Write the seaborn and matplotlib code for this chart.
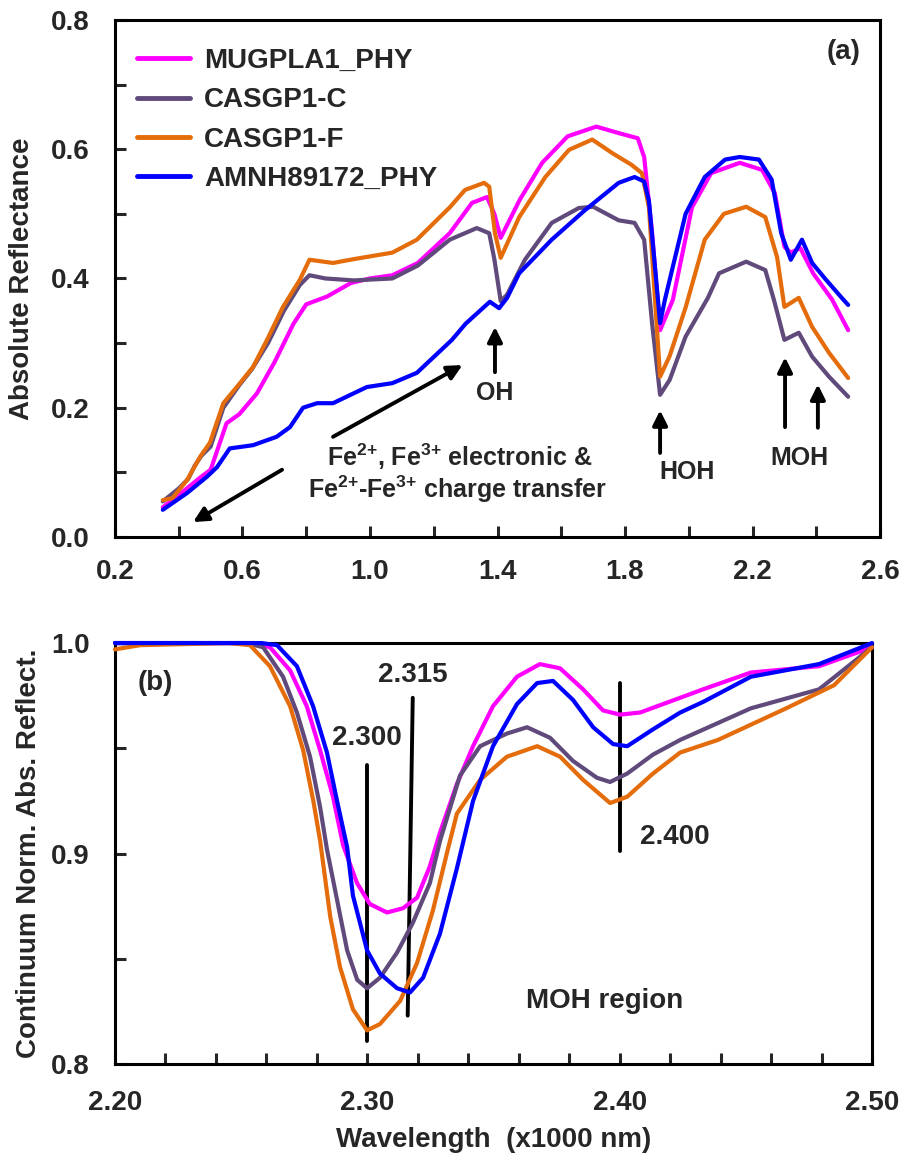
import numpy as np
import pandas as pd
import matplotlib
matplotlib.use("Agg")
import matplotlib.pyplot as plt
from matplotlib.ticker import MultipleLocator
import seaborn as sns

# ---- panel (a): absolute reflectance, wavelength in micrometres ----
samples = ["MUGPLA1_PHY", "CASGP1-C", "CASGP1-F", "AMNH89172_PHY"]
colors = ["#FF00FF", "#604A7B", "#E46C0A", "#0000FF"]

a_mug_x = [0.35, 0.40, 0.45, 0.47, 0.50, 0.55, 0.59, 0.645, 0.70, 0.76, 0.80, 0.865,
           0.94, 1.00, 1.07, 1.15, 1.25, 1.32, 1.367, 1.39, 1.41, 1.47, 1.54, 1.62,
           1.71, 1.78, 1.84, 1.86, 1.885, 1.91, 1.95, 2.01, 2.07, 2.16, 2.23, 2.27,
           2.30, 2.32, 2.35, 2.39, 2.45, 2.50]
a_mug_y = [0.046, 0.065, 0.085, 0.093, 0.104, 0.176, 0.19, 0.222, 0.27, 0.33, 0.36, 0.372,
           0.393, 0.40, 0.405, 0.424, 0.47, 0.517, 0.526, 0.50, 0.463, 0.522, 0.579, 0.62,
           0.635, 0.625, 0.617, 0.588, 0.47, 0.32, 0.367, 0.51, 0.563, 0.579, 0.568, 0.532,
           0.449, 0.44, 0.447, 0.408, 0.367, 0.32]

a_casc_x = [0.35, 0.40, 0.43, 0.45, 0.47, 0.50, 0.54, 0.59, 0.63, 0.68, 0.73, 0.78, 0.81,
            0.86, 0.95, 1.07, 1.15, 1.25, 1.335, 1.374, 1.39, 1.41, 1.43, 1.486, 1.57,
            1.655, 1.70, 1.78, 1.83, 1.86, 1.885, 1.91, 1.94, 1.99, 2.06, 2.095, 2.18,
            2.24, 2.267, 2.30, 2.345, 2.387, 2.44, 2.50]
a_casc_y = [0.055, 0.075, 0.09, 0.11, 0.125, 0.14, 0.20, 0.235, 0.26, 0.30, 0.35, 0.39, 0.405,
            0.40, 0.397, 0.40, 0.42, 0.46, 0.478, 0.47, 0.43, 0.365, 0.375, 0.429, 0.486,
            0.509, 0.511, 0.49, 0.486, 0.46, 0.33, 0.22, 0.243, 0.31, 0.37, 0.408, 0.426,
            0.413, 0.367, 0.305, 0.316, 0.279, 0.248, 0.217]

a_casf_x = [0.35, 0.38, 0.426, 0.467, 0.498, 0.54, 0.592, 0.633, 0.677, 0.727, 0.78, 0.81,
            0.884, 0.95, 1.07, 1.147, 1.25, 1.298, 1.358, 1.374, 1.392, 1.41, 1.468, 1.55,
            1.624, 1.697, 1.76, 1.82, 1.853, 1.875, 1.91, 1.94, 1.99, 2.05, 2.11, 2.18,
            2.24, 2.277, 2.30, 2.345, 2.387, 2.44, 2.50]
a_casf_y = [0.057, 0.06, 0.088, 0.124, 0.146, 0.207, 0.238, 0.263, 0.305, 0.356, 0.398, 0.429,
            0.424, 0.43, 0.44, 0.46, 0.51, 0.537, 0.548, 0.542, 0.47, 0.432, 0.495, 0.557,
            0.599, 0.615, 0.594, 0.576, 0.563, 0.51, 0.248, 0.28, 0.355, 0.46, 0.50, 0.511,
            0.495, 0.433, 0.356, 0.37, 0.325, 0.285, 0.246]

a_amnh_x = [0.35, 0.426, 0.488, 0.52, 0.56, 0.633, 0.707, 0.749, 0.79, 0.834, 0.884, 0.99,
            1.07, 1.147, 1.257, 1.30, 1.376, 1.405, 1.43, 1.468, 1.57, 1.675, 1.78, 1.83,
            1.86, 1.875, 1.91, 1.925, 1.99, 2.05, 2.114, 2.16, 2.22, 2.26, 2.29, 2.32,
            2.355, 2.387, 2.427, 2.48, 2.50]
a_amnh_y = [0.042, 0.068, 0.093, 0.108, 0.137, 0.142, 0.155, 0.17, 0.20, 0.207, 0.207, 0.232,
            0.238, 0.254, 0.305, 0.33, 0.364, 0.354, 0.37, 0.408, 0.46, 0.506, 0.548, 0.557,
            0.55, 0.52, 0.331, 0.367, 0.50, 0.557, 0.584, 0.588, 0.584, 0.553, 0.47, 0.429,
            0.46, 0.424, 0.40, 0.37, 0.359]

# ---- panel (b): continuum-normalised MOH region ----
b_mug_x = [2.20, 2.255, 2.2614, 2.2694, 2.276, 2.2813, 2.2864, 2.2904, 2.2959, 2.301, 2.3078,
           2.3141, 2.3197, 2.3248, 2.3288, 2.3355, 2.3419, 2.3498, 2.3593, 2.3684, 2.3764,
           2.3855, 2.3934, 2.4002, 2.4081, 2.424, 2.433, 2.452, 2.479, 2.50]
b_mug_y = [1.0, 1.0, 0.998, 0.987, 0.970, 0.949, 0.927, 0.904, 0.886, 0.876, 0.872,
           0.874, 0.879, 0.894, 0.910, 0.933, 0.951, 0.970, 0.984, 0.990, 0.988,
           0.978, 0.968, 0.966, 0.967, 0.974, 0.978, 0.986, 0.989, 0.998]

b_casc_x = [2.20, 2.252, 2.2587, 2.2666, 2.2721, 2.2773, 2.2813, 2.284, 2.288, 2.292, 2.296,
            2.2999, 2.305, 2.3118, 2.318, 2.3248, 2.3288, 2.3367, 2.3447, 2.3553, 2.3633,
            2.3724, 2.3815, 2.391, 2.3962, 2.403, 2.4132, 2.424, 2.452, 2.479, 2.50]
b_casc_y = [1.0, 1.0, 0.998, 0.984, 0.967, 0.946, 0.922, 0.902, 0.878, 0.854, 0.840,
            0.836, 0.841, 0.853, 0.867, 0.886, 0.906, 0.937, 0.951, 0.957, 0.960,
            0.955, 0.944, 0.936, 0.934, 0.938, 0.947, 0.954, 0.969, 0.978, 0.998]

b_casf_x = [2.20, 2.21, 2.245, 2.2535, 2.2614, 2.2694, 2.2746, 2.2786, 2.2813, 2.2853, 2.2892,
            2.2943, 2.2999, 2.305, 2.313, 2.3197, 2.326, 2.3315, 2.3355, 2.3447, 2.3553,
            2.3673, 2.3764, 2.3855, 2.3962, 2.403, 2.4132, 2.424, 2.439, 2.466, 2.485, 2.50]
b_casf_y = [0.997, 0.999, 1.0, 0.999, 0.989, 0.970, 0.949, 0.925, 0.906, 0.870, 0.846,
            0.826, 0.816, 0.819, 0.830, 0.848, 0.873, 0.900, 0.919, 0.935, 0.946,
            0.951, 0.946, 0.935, 0.924, 0.927, 0.938, 0.948, 0.954, 0.969, 0.980, 0.998]

b_amnh_x = [2.20, 2.258, 2.2642, 2.2721, 2.2785, 2.284, 2.288, 2.292, 2.2943, 2.2999, 2.305,
            2.3118, 2.3169, 2.3221, 2.3288, 2.3355, 2.3419, 2.3498, 2.3593, 2.3673, 2.3736,
            2.3815, 2.3895, 2.3974, 2.403, 2.4132, 2.424, 2.433, 2.452, 2.479, 2.50]
b_amnh_y = [1.0, 1.0, 0.999, 0.989, 0.970, 0.948, 0.925, 0.903, 0.880, 0.854, 0.843,
            0.836, 0.834, 0.841, 0.862, 0.893, 0.925, 0.951, 0.971, 0.981, 0.982,
            0.973, 0.960, 0.952, 0.951, 0.959, 0.967, 0.972, 0.984, 0.990, 1.0]

band_centers = [2.300, 2.315, 2.400]


def long_table(xs, ys):
    parts = []
    for name, x, y in zip(samples, xs, ys):
        parts.append(pd.DataFrame({"wl": x, "refl": y, "sample": name}))
    return pd.concat(parts, ignore_index=True)


df_a = long_table([a_mug_x, a_casc_x, a_casf_x, a_amnh_x],
                  [a_mug_y, a_casc_y, a_casf_y, a_amnh_y])
df_b = long_table([b_mug_x, b_casc_x, b_casf_x, b_amnh_x],
                  [b_mug_y, b_casc_y, b_casf_y, b_amnh_y])

sns.set_style("ticks")
plt.rcParams["font.family"] = ["Liberation Sans", "DejaVu Sans"]
plt.rcParams["font.weight"] = "bold"
plt.rcParams["axes.labelweight"] = "bold"
plt.rcParams["mathtext.fontset"] = "custom"
plt.rcParams["mathtext.rm"] = "Liberation Sans:bold"
plt.rcParams["mathtext.bf"] = "Liberation Sans:bold"
plt.rcParams["mathtext.it"] = "Liberation Sans:bold"
plt.rcParams["mathtext.default"] = "rm"

palette = dict(zip(samples, colors))
fs = 20

fig = plt.figure(figsize=(9.04, 11.62), dpi=100)
ax1 = fig.add_axes([0.1272, 0.5379, 0.8463, 0.4449])
ax2 = fig.add_axes([0.1272, 0.0843, 0.8374, 0.3623])

sns.lineplot(data=df_a, x="wl", y="refl", hue="sample", hue_order=samples,
             palette=palette, estimator=None, lw=3, ax=ax1)
sns.lineplot(data=df_b, x="wl", y="refl", hue="sample", hue_order=samples,
             palette=palette, estimator=None, lw=3, ax=ax2, legend=False)
for ln in ax2.lines:
    ln.set_clip_on(False)
    ln.set_zorder(3)

for ax in (ax1, ax2):
    for s in ax.spines.values():
        s.set_linewidth(2.2)
        s.set_color("black")
    ax.tick_params(which="both", direction="in", length=8, width=2.2,
                   labelsize=fs, top=False, right=False)
    ax.tick_params(axis="x", which="both", pad=16)
    ax.tick_params(axis="y", which="both", pad=18)

# panel (a) axes
ax1.set_xlim(0.2, 2.6)
ax1.set_ylim(0.0, 0.8)
ax1.set_xticks(np.arange(0.2, 2.61, 0.4))
ax1.set_xticks(np.arange(0.4, 2.5, 0.4), minor=True)
ax1.yaxis.set_major_locator(MultipleLocator(0.2))
ax1.yaxis.set_minor_locator(MultipleLocator(0.1))
ax1.xaxis.set_major_formatter(lambda v, p: f"{v:.1f}")
ax1.yaxis.set_major_formatter(lambda v, p: f"{v:.1f}")
ax1.set_xlabel("")
ax1.set_ylabel("Absolute Reflectance", fontsize=fs)
ax1.yaxis.set_label_coords(-0.105, 0.5)

leg = ax1.legend(loc="upper left", bbox_to_anchor=(0.029, 0.946), frameon=False,
                 fontsize=fs, borderpad=0, borderaxespad=0, handlelength=1.9,
                 handletextpad=0.5, labelspacing=0.48)
for h in leg.get_lines():
    h.set_linewidth(3.5)

ax1.text(2.487, 0.75, "(a)", fontsize=fs, ha="center", va="center")

arrow = dict(arrowstyle="-|>", lw=2.8, color="black", mutation_scale=22, shrinkA=0, shrinkB=0)
ax1.annotate("", xy=(1.392, 0.325), xytext=(1.392, 0.255), arrowprops=arrow)
ax1.text(1.392, 0.223, "OH", fontsize=18, ha="center", va="center")
ax1.annotate("", xy=(1.91, 0.196), xytext=(1.91, 0.13), arrowprops=arrow)
ax1.text(1.995, 0.10, "HOH", fontsize=18, ha="center", va="center")
ax1.annotate("", xy=(2.302, 0.278), xytext=(2.302, 0.17), arrowprops=arrow)
ax1.annotate("", xy=(2.405, 0.236), xytext=(2.405, 0.169), arrowprops=arrow)
ax1.text(2.346, 0.122, "MOH", fontsize=18, ha="center", va="center")
ax1.annotate("", xy=(1.29, 0.266), xytext=(0.884, 0.155), arrowprops=arrow)
ax1.annotate("", xy=(0.445, 0.023), xytext=(0.724, 0.104), arrowprops=arrow)
ax1.text(1.28, 0.124, "Fe$^{2{+}}$, Fe$^{3{+}}$ electronic &", fontsize=18,
         ha="center", va="center")
ax1.text(1.275, 0.073, "Fe$^{2{+}}$-Fe$^{3{+}}$ charge transfer", fontsize=18,
         ha="center", va="center")

# panel (b) axes
ax2.set_xlim(2.2, 2.5)
ax2.set_ylim(0.8, 1.0)
ax2.xaxis.set_major_locator(MultipleLocator(0.1))
ax2.xaxis.set_minor_locator(MultipleLocator(0.02))
ax2.yaxis.set_major_locator(MultipleLocator(0.1))
ax2.yaxis.set_minor_locator(MultipleLocator(0.05))
ax2.xaxis.set_major_formatter(lambda v, p: f"{v:.2f}")
ax2.yaxis.set_major_formatter(lambda v, p: f"{v:.1f}")
ax2.tick_params(axis="x", which="both", pad=19)
ax2.set_xlabel("Wavelength  (x1000 nm)", fontsize=fs, va="top")
ax2.xaxis.set_label_coords(0.5, -0.15)
ax2.set_ylabel("Continuum Norm. Abs. Reflect.", fontsize=fs)
ax2.yaxis.set_label_coords(-0.096, 0.5)

ax2.plot([band_centers[0], band_centers[0]], [0.942, 0.811], color="black", lw=2.8)
ax2.plot([band_centers[1] + 0.003, band_centers[1] + 0.001], [0.974, 0.823],
         color="black", lw=2.8)
ax2.plot([band_centers[2], band_centers[2]], [0.981, 0.901], color="black", lw=2.8)
ax2.text(band_centers[0], 0.955, f"{band_centers[0]:.3f}", fontsize=fs, ha="center", va="center")
ax2.text(band_centers[1] + 0.003, 0.985, f"{band_centers[1]:.3f}", fontsize=fs,
         ha="center", va="center")
ax2.text(band_centers[2] + 0.008, 0.908, f"{band_centers[2]:.3f}", fontsize=fs,
         ha="left", va="center")
ax2.text(2.216, 0.981, "(b)", fontsize=fs, ha="center", va="center")
ax2.text(2.394, 0.83, "MOH region", fontsize=fs, ha="center", va="center")

fig.savefig("out.png", dpi=100, facecolor="white")
plt.close(fig)
